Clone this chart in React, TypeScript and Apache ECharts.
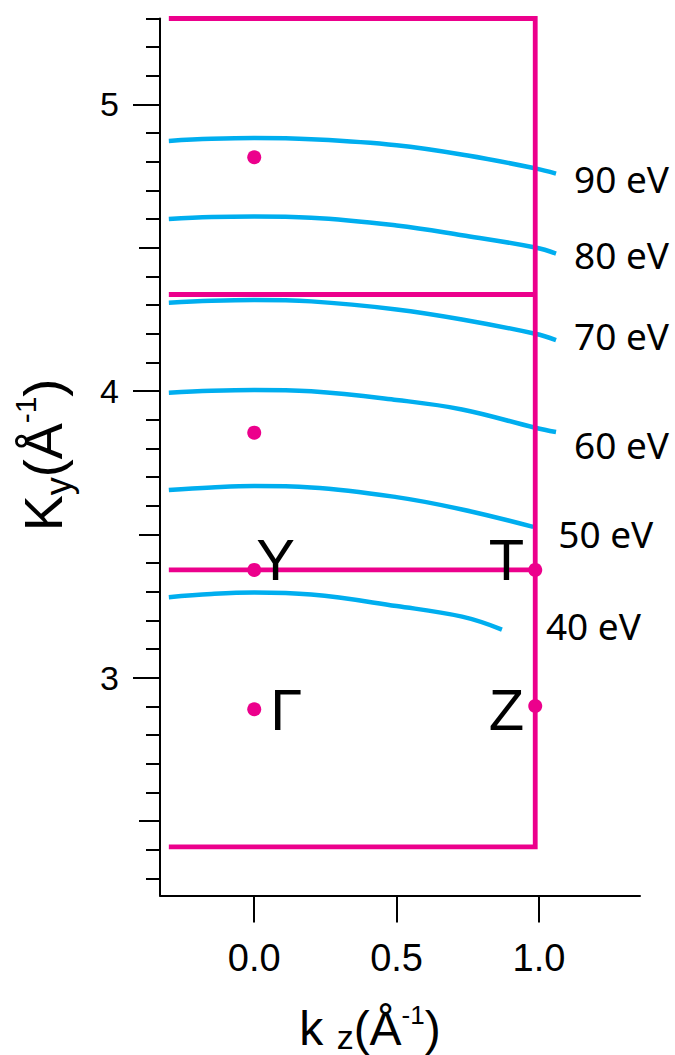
import React, { useEffect, useRef } from "react";
import * as echarts from "echarts";

// ---- data ----
const energyLabels = ["90 eV", "80 eV", "70 eV", "60 eV", "50 eV", "40 eV"];

const curve90 = [[-0.3, 4.873], [-0.15, 4.88], [0, 4.883], [0.2, 4.879], [0.5, 4.858], [0.75, 4.822], [0.987, 4.777], [1.06, 4.759]];
const curve80 = [[-0.3, 4.6], [-0.15, 4.607], [0, 4.609], [0.2, 4.605], [0.5, 4.578], [0.73, 4.544], [0.987, 4.501], [1.06, 4.48]];
const curve70 = [[-0.3, 4.308], [-0.15, 4.315], [0, 4.318], [0.2, 4.313], [0.5, 4.285], [0.73, 4.25], [0.987, 4.2], [1.06, 4.178]];
const curve60 = [[-0.3, 3.994], [-0.15, 4.001], [0, 4.004], [0.2, 3.999], [0.5, 3.969], [0.73, 3.936], [0.987, 3.872], [1.06, 3.857]];
const curve50 = [[-0.3, 3.655], [-0.15, 3.664], [0, 3.669], [0.2, 3.664], [0.5, 3.63], [0.73, 3.587], [0.98, 3.526]];
const curve40 = [[-0.3, 3.281], [-0.15, 3.292], [0, 3.297], [0.2, 3.29], [0.5, 3.25], [0.73, 3.213], [0.87, 3.168]];
const curves = [curve90, curve80, curve70, curve60, curve50, curve40];

// Brillouin-zone boundary
const zoneOuter = [[-0.3, 5.3], [0.987, 5.3], [0.987, 2.41], [-0.3, 2.41]];
const zoneMidUpper = [[-0.3, 4.337], [0.987, 4.337]];
const zoneMidLower = [[-0.3, 3.376], [0.987, 3.376]];

// high-symmetry points
const pointNames = ["Γ", "Y", "", "", "T", "Z"];
const pointKz = [0, 0, 0, 0, 0.987, 0.987];
const pointKy = [2.89, 3.376, 3.855, 4.816, 3.376, 2.901];

// axis ticks
const yMajorTicks = [3, 4, 5];
const yMajorLabels = ["3", "4", "5"];
const yMidTicks = [2.5, 3.5, 4.5];
const yMinorTicks = [2.3, 2.4, 2.6, 2.7, 2.8, 2.9, 3.1, 3.2, 3.3, 3.4, 3.6, 3.7, 3.8, 3.9, 4.1, 4.2, 4.3, 4.4, 4.6, 4.7, 4.8, 4.9, 5.1, 5.2, 5.3];
const xTicks = [0, 0.5, 1.0];
const xTickLabels = ["0.0", "0.5", "1.0"];

// ---- styles ----
const MAGENTA = "#EC008C";
const BLUE = "#00AEEF";
const SANS = "'Liberation Sans', Arial, sans-serif";
const LABEL_FONT = "'Noto Sans', 'Open Sans', sans-serif";
const energyLabelOffsets = [[18, 5], [18, 1], [18, -5], [18, 12], [25, 7], [44, -4]];
const pointLabelStyles = [
  { align: "left", offset: [16, 0] },
  { align: "left", offset: [2, -10] },
  null,
  null,
  { align: "right", offset: [-11, -10] },
  { align: "right", offset: [-11, 3] },
];

export default function App() {
  const ref = useRef<HTMLDivElement>(null);

  useEffect(() => {
    if (!ref.current) return;
    const chart = echarts.init(ref.current, null, { renderer: "svg" });

    const yBase = {
      type: "value",
      min: 2.24,
      max: 5.3,
      position: "left",
      offset: 0,
      splitLine: { show: false },
    };

    const series: any[] = [];
    [zoneOuter, zoneMidUpper, zoneMidLower].forEach((d) => {
      series.push({
        type: "line",
        data: d,
        symbol: "none",
        silent: true,
        z: 3,
        lineStyle: { color: MAGENTA, width: 4.8, join: "miter", opacity: 1 },
      });
    });
    curves.forEach((d, i) => {
      series.push({
        type: "line",
        data: d,
        symbol: "none",
        smooth: 0.4,
        silent: true,
        z: 2,
        lineStyle: { color: BLUE, width: 4.5, cap: "butt", opacity: 1 },
        endLabel: {
          show: true,
          formatter: energyLabels[i],
          distance: 0,
          offset: energyLabelOffsets[i],
          color: "#000",
          fontSize: 37,
          fontFamily: LABEL_FONT,
          align: "left",
          verticalAlign: "middle",
        },
      });
    });
    series.push({
      type: "scatter",
      symbol: "circle",
      symbolSize: 14,
      z: 5,
      silent: true,
      itemStyle: { color: MAGENTA, opacity: 1 },
      data: pointNames.map((n, i) => {
        const st = pointLabelStyles[i];
        return {
          name: n,
          value: [pointKz[i], pointKy[i]],
          label: st
            ? {
                show: true,
                formatter: n,
                position: "inside",
                align: st.align,
                verticalAlign: "middle",
                offset: st.offset,
                color: "#000",
                opacity: 1,
                fontSize: 58,
                fontFamily: SANS,
              }
            : { show: false },
        };
      }),
    });

    const titleX = "{m|k }{s|z}{m|(Å}{p|-1}{m|)}";
    const titleY = "{m|K}{s|y}{m|(Å}{p|-1}{m|)}";

    chart.setOption({
      animation: false,
      backgroundColor: "#fff",
      grid: { left: 160, right: 35, top: 18.5, bottom: 159.5, containLabel: false },
      xAxis: {
        type: "value",
        min: -0.331,
        max: 1.355,
        position: "bottom",
        axisLine: { show: true, onZero: false, lineStyle: { color: "#000", width: 2 } },
        axisTick: { show: true, inside: false, length: 27, customValues: xTicks, lineStyle: { color: "#000", width: 2 } },
        axisLabel: {
          show: true,
          customValues: xTicks,
          formatter: (v: number) => xTickLabels[xTicks.indexOf(v)] ?? v.toFixed(1),
          margin: 43,
          color: "#000",
          fontSize: 38,
          fontFamily: SANS,
        },
        splitLine: { show: false },
      },
      yAxis: [
        {
          ...yBase,
          axisLine: { show: true, onZero: false, lineStyle: { color: "#000", width: 2 } },
          axisTick: { show: true, inside: false, length: 27, customValues: yMajorTicks, lineStyle: { color: "#000", width: 2 } },
          axisLabel: {
            show: true,
            customValues: yMajorTicks,
            formatter: (v: number) => yMajorLabels[yMajorTicks.indexOf(v)] ?? String(v),
            margin: 41,
            color: "#000",
            fontSize: 34,
            fontFamily: SANS,
          },
        },
        {
          ...yBase,
          axisLine: { show: false, onZero: false },
          axisTick: { show: true, inside: false, length: 21, customValues: yMidTicks, lineStyle: { color: "#000", width: 2 } },
          axisLabel: { show: false },
        },
        {
          ...yBase,
          axisLine: { show: false, onZero: false },
          axisTick: { show: true, inside: false, length: 14, customValues: yMinorTicks, lineStyle: { color: "#000", width: 2 } },
          axisLabel: { show: false },
        },
      ],
      graphic: [
        {
          type: "text",
          x: 370,
          y: 1028,
          style: {
            text: titleX,
            align: "center",
            verticalAlign: "middle",
            fill: "#000",
            rich: {
              m: { fontSize: 48, fontFamily: SANS, lineHeight: 52, fill: "#000" },
              s: { fontSize: 34, fontFamily: SANS, lineHeight: 28, verticalAlign: "bottom", fill: "#000" },
              p: { fontSize: 26, fontFamily: SANS, lineHeight: 18, verticalAlign: "top", fill: "#000" },
            },
          },
        },
        {
          type: "text",
          x: 43,
          y: 455,
          rotation: Math.PI / 2,
          style: {
            text: titleY,
            align: "center",
            verticalAlign: "middle",
            fill: "#000",
            rich: {
              m: { fontSize: 54, fontFamily: SANS, lineHeight: 66, fill: "#000" },
              s: { fontSize: 36, fontFamily: SANS, lineHeight: 36, verticalAlign: "bottom", fill: "#000" },
              p: { fontSize: 30, fontFamily: SANS, lineHeight: 30, verticalAlign: "top", fill: "#000" },
            },
          },
        },
      ],
      series,
    });

    return () => chart.dispose();
  }, []);

  return (
    <div
      ref={ref}
      style={{ position: "absolute", left: 0, top: 0, width: 675, height: 1055, background: "#fff" }}
    />
  );
}
